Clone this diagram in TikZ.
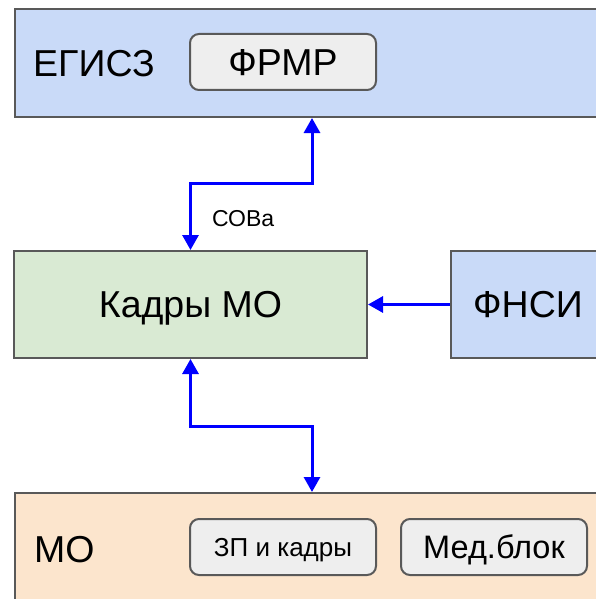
\documentclass[tikz,border=0pt]{standalone}
\usepackage{fontspec}
\setmainfont{Liberation Sans}
\usetikzlibrary{positioning,arrows.meta}
\definecolor{sysblue}{HTML}{C9DAF8}
\definecolor{sysgreen}{HTML}{D9EAD3}
\definecolor{sysorange}{HTML}{FCE5CD}
\definecolor{subgray}{HTML}{EEEEEE}
\definecolor{linegray}{HTML}{595959}
\tikzset{sys node/.style={rectangle,draw=linegray,line width=2pt,inner sep=0pt},
  sub node/.style={rectangle,rounded corners=9pt,draw=linegray,line width=2pt,fill=subgray,minimum width=186pt,minimum height=56pt,inner sep=0pt},
  big text/.style={font=\fontsize{37.5}{42}\selectfont,text height=26.9pt,text depth=0pt,inner sep=0pt},
  link/.style={draw=blue,line width=3pt,>={Triangle[length=15pt,width=16pt]}} }

\begin{document}
\begin{tikzpicture}[x=1pt,y=-1pt]
\useasboundingbox (0,0) rectangle (596,599);
\clip (0,0) rectangle (596,599);

  % systems
  \node[sys node,fill=sysblue,minimum width=586pt,minimum height=108pt,anchor=north west] (1) at (14,8) {};
  \node[big text,anchor=west] (1t) at ([xshift=19pt]1.west) {ЕГИСЗ};
  \node[sub node,big text] (2) at (283,62) {ФРМР};
  \node[sys node,big text,fill=sysgreen,minimum width=353pt,minimum height=107pt] (3) at (190.5,304.5) {Кадры МО};
  \node[sys node,big text,fill=sysblue,minimum width=154pt,minimum height=107pt] (4) at (528,304.5) {ФНСИ};
  \node[sys node,fill=sysorange,minimum width=586pt,minimum height=113pt,anchor=north west] (5) at (14,492) {};
  \node[big text,anchor=west] (5t) at ([xshift=20pt]5.west) {МО};
  \node[sub node,font=\fontsize{26}{30}\selectfont,text height=18.6pt,text depth=0pt] (6) at (283,547) {ЗП и кадры};
  \node[sub node,font=\fontsize{32.5}{36}\selectfont,text height=23.3pt,text depth=0pt] (7) at (494,547) {Мед.блок};

  % links
  \coordinate (k1) at (312,183);
  \coordinate (k2) at (312,426);
  \draw[link,<->] (3.north) |- node[pos=0.25,right=20pt,yshift=-1.5pt,inner sep=0pt,font=\fontsize{23}{26}\selectfont,text height=16.5pt,text depth=0pt] (sova) {СОВа} (k1) -- (k1 |- 1.south);
  \draw[link,->] (4.west) -- (3.east);
  \draw[link,<->] (3.south) |- (k2) -- (k2 |- 5.north);
\end{tikzpicture}
\end{document}
